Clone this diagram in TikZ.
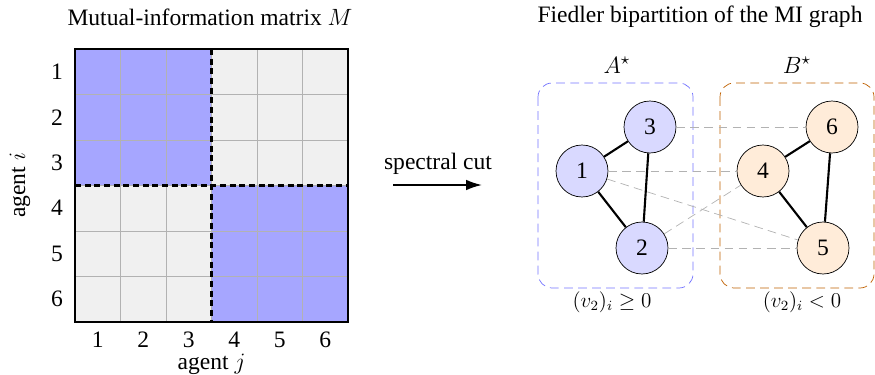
\documentclass[tikz,border=0pt]{standalone}
\usepackage{fix-cm}
\usepackage{amsmath}
\usepackage{amssymb}
\usepackage{fontspec}
\setmainfont{Liberation Serif}
\usetikzlibrary{arrows.meta}

\newcommand{\bigtxt}{\fontsize{13.4}{16}\selectfont}
\newcommand{\captxt}{\fontsize{12}{14}\selectfont}

\tikzset{
  every node/.style={font=\bigtxt},
  agentA/.style={circle,draw,fill=blue!15,minimum size=1.04cm,inner sep=0pt},
  agentB/.style={circle,draw,fill=orange!15,minimum size=1.04cm,inner sep=0pt},
  intra/.style={line width=1.2pt},
  cross/.style={gray!60,dashed,dash pattern=on 5pt off 3pt},
  cutline/.style={line width=1.3pt,dash pattern=on 3.5pt off 2pt},
}

\begin{document}
\begin{tikzpicture}[x=0.02cm,y=-0.02cm]
  \useasboundingbox (0,0) rectangle (875,375);
  % matrix M
  \fill[gray!12] (75,49) rectangle (348,322);
  \fill[blue!35] (75,49) rectangle (211.5,185.5);
  \fill[blue!35] (211.5,185.5) rectangle (348,322);
  \foreach \k in {1,...,5} {
    \draw[black!30] (75+45.5*\k,49) -- (75+45.5*\k,322);
    \draw[black!30] (75,49+45.5*\k) -- (348,49+45.5*\k);
  }
  \draw[line width=1pt] (75,49) rectangle (348,322);
  \draw[cutline] (211.5,49) -- (211.5,322);
  \draw[cutline] (75,185.5) -- (348,185.5);
  \foreach \k in {1,...,6} {
    \node (r\k) at (57,26.25+45.5*\k) {\k};
    \node[inner sep=0.5pt] (c\k) at (52.25+45.5*\k,340) {\k};
  }
  \node (title) at (210,17) {Mutual-information matrix $M$};
  \node[inner sep=0.5pt] (aj) at (211.5,364) {agent $j$};
  \node[rotate=90] (ai) at (20,185.5) {agent $i$};

  % arrow
  \node (cut) at (438,164) {spectral cut};
  \coordinate (s0) at (393,185);
  \coordinate (s1) at (482,185);
  \draw[-{Latex[length=9pt,width=6pt]},line width=1pt] (s0) -- (s1);

  % graph
  \node (gtitle) at (700,17) {Fiedler bipartition of the MI graph};
  \draw[blue!55,dash pattern=on 5pt off 3pt,rounded corners=8pt] (538,83) rectangle (693,288);
  \draw[orange!75!black,dash pattern=on 5pt off 3pt,rounded corners=8pt] (720,83) rectangle (874,288);
  \node (la) at (617,65) {$A^{\star}$};
  \node (lb) at (797,65) {$B^{\star}$};
  \node[font=\captxt] (ca) at (612,302) {$(v_2)_i \geq 0$};
  \node[font=\captxt] (cb) at (802,302) {$(v_2)_i < 0$};

  \node[agentA] (n1) at (582,171) {1};
  \node[agentA] (n3) at (650,127) {3};
  \node[agentA] (n2) at (642,248) {2};
  \node[agentB] (n4) at (763,171) {4};
  \node[agentB] (n6) at (832,127) {6};
  \node[agentB] (n5) at (823,248) {5};

  \draw[cross] (n3) -- (n6);
  \draw[cross] (n1) -- (n4);
  \draw[cross] (n1) -- (n5);
  \draw[cross] (n2) -- (n4);
  \draw[cross] (n2) -- (n5);

  \draw[intra] (n1) -- (n3);
  \draw[intra] (n1) -- (n2);
  \draw[intra] (n3) -- (n2);
  \draw[intra] (n4) -- (n6);
  \draw[intra] (n4) -- (n5);
  \draw[intra] (n6) -- (n5);
\end{tikzpicture}
\end{document}
